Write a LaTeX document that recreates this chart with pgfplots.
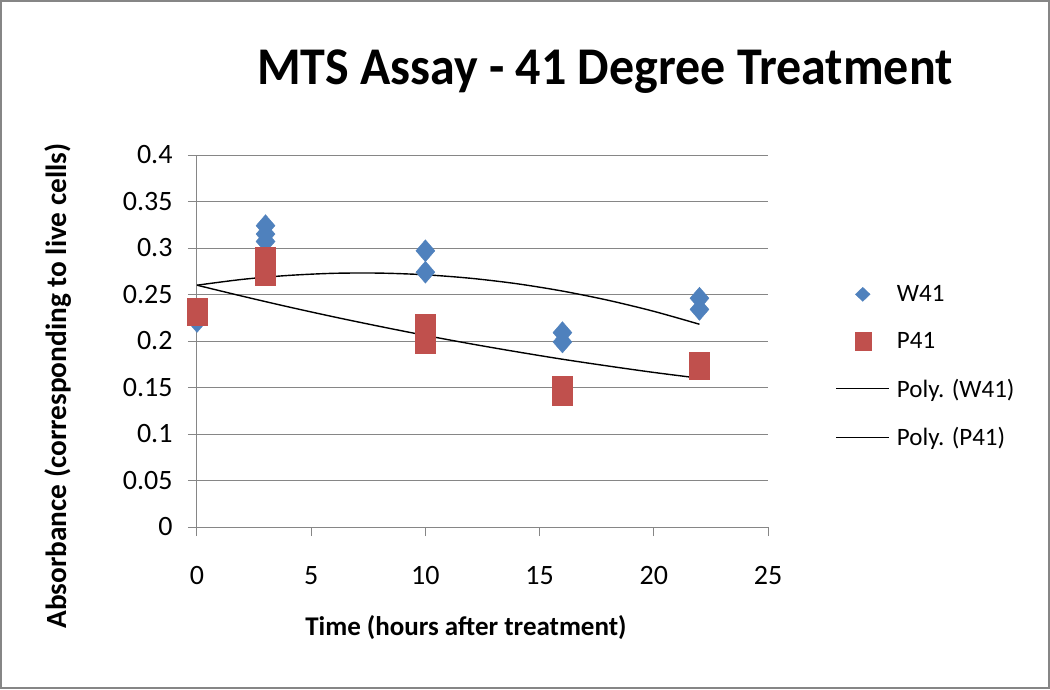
\documentclass[border=0pt]{standalone}
\usepackage{pgfplots}
\pgfplotsset{compat=1.18}
\usepackage{fontspec}
\setmainfont{Carlito}
\definecolor{wblue}{HTML}{4F81BD}
\definecolor{pred}{HTML}{C0504D}
\definecolor{gridgray}{HTML}{868686}
\begin{document}
\begin{tikzpicture}[x=1pt,y=1pt]
\useasboundingbox (0,0) rectangle (1050,689);
\fill[white] (0,0) rectangle (1050,689);
\draw[gridgray, line width=2pt] (1,1) rectangle (1049,688);
\node[anchor=base, font=\fontsize{50}{60}\selectfont\bfseries, yscale=1.06] at (605,604) {MTS Assay - 41 Degree Treatment};
\begin{axis}[
  at={(197pt,162pt)}, anchor=south west,
  scale only axis, width=571pt, height=372pt,
  xmin=0, xmax=25, ymin=0, ymax=0.4,
  clip=false,
  axis x line=bottom, axis y line=left,
  axis line style={gridgray, line width=1pt, -},
  xtick={0,5,10,15,20,25},
  ytick={0,0.05,0.1,0.15,0.2,0.25,0.3,0.35,0.4},
  yticklabels={0,0.05,0.1,0.15,0.2,0.25,0.3,0.35,0.4},
  /pgf/number format/assume math mode=true,
  tick align=outside, major tick length=9pt,
  tick style={gridgray, line width=1pt},
  ymajorgrids, grid style={gridgray, line width=1pt},
  ticklabel style={font=\fontsize{28}{30}\selectfont},
  xticklabel style={yshift=-27pt},
  yticklabel style={xshift=-12pt},
  xlabel={Time (hours after treatment)},
  ylabel={Absorbance (corresponding to live cells)},
  xlabel style={at={(axis description cs:0.471,-0.2715)}, anchor=center, font=\bfseries\fontsize{27}{30}\selectfont},
  ylabel style={at={(axis description cs:-0.243,0.379)}, anchor=center, font=\bfseries\fontsize{29.3}{30}\selectfont},
  legend style={at={(axis description cs:1.118,0.655)}, anchor=north west, draw=none, fill=none,
    font=\fontsize{25}{30}\selectfont, row sep=25pt, inner sep=0pt,
    nodes={inner xsep=7pt}},
  legend cell align=left,
  legend image code/.code={\draw[mark repeat=2,mark phase=2, line width=1.4pt] plot coordinates {(0pt,0pt)(26.5pt,0pt)(53pt,0pt)};},
]
\addplot[only marks, mark=diamond*, mark size=11pt, color=wblue, mark options={xscale=1.15},
  legend image code/.code={\draw[mark=diamond*, mark size=7pt, mark options={xscale=1.4}] plot coordinates {(26.5pt,0pt)};}]
  coordinates {(0,0.221)(0,0.228)(3,0.324)(3,0.315)(3,0.307)(10,0.297)(10,0.274)(16,0.209)(16,0.199)(22,0.246)(22,0.234)};
\addplot[only marks, mark=square*, mark size=10pt, color=pred,
  legend image code/.code={\draw[mark=square*, mark size=8pt, mark options={yscale=1.1}] plot coordinates {(26.5pt,0pt)};}]
  coordinates {(0,0.235)(0,0.228)(3,0.290)(3,0.280)(3,0.271)(10,0.218)(10,0.198)(16,0.151)(16,0.142)(22,0.177)(22,0.170)};
\addplot[black, line width=1.4pt, smooth] coordinates {
  (0,0.2600)(2,0.2663)(4,0.2705)(6,0.2728)(8,0.2730)(10,0.2712)(12,0.2674)(14,0.2616)(16,0.2537)(18,0.2438)(20,0.2319)(22,0.2180)};
\addplot[black, line width=1.4pt, smooth] coordinates {
  (0,0.2600)(2,0.2481)(4,0.2367)(6,0.2259)(8,0.2157)(10,0.2060)(12,0.1969)(14,0.1884)(16,0.1804)(18,0.1731)(20,0.1662)(22,0.1600)};
\legend{W41, P41, Poly. (W41), Poly. (P41)}
\end{axis}
\end{tikzpicture}
\end{document}
